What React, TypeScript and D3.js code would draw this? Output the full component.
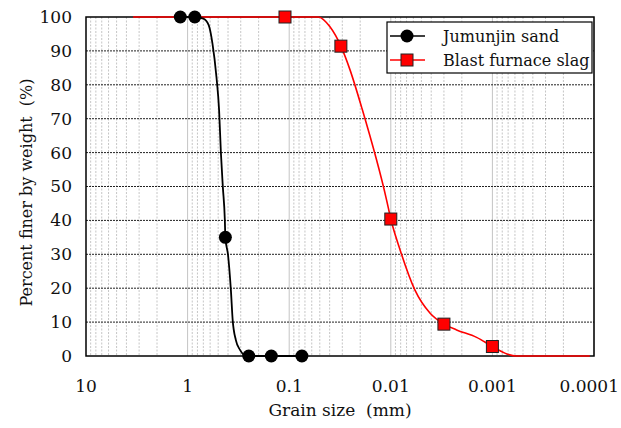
import React, { useEffect, useRef } from "react";
import * as d3 from "d3";

// markers (sieve / hydrometer readings)
const sandSize = [1.18, 0.85, 0.425, 0.25, 0.15, 0.075];
const sandPct = [100, 100, 35, 0, 0, 0];
const slagSize = [0.11, 0.031, 0.01, 0.003, 0.001];
const slagPct = [100, 91.4, 40.4, 9.4, 2.8];

// smoothed gradation curves
const sandCurveSize = [1.18, 0.85, 0.7, 0.62, 0.57, 0.52, 0.49, 0.47, 0.45, 0.43, 0.425, 0.4, 0.375, 0.36, 0.335, 0.305, 0.262, 0.25, 0.15, 0.075];
const sandCurvePct = [100, 100, 99.5, 97.6, 92.3, 82.3, 72.6, 59.9, 49.9, 40.1, 35, 29.8, 19.5, 10.6, 4.7, 1.8, 0, 0, 0, 0];
const slagCurveSize = [3.44, 0.11, 0.0517, 0.0397, 0.031, 0.0252, 0.0193, 0.011, 0.01, 0.0081, 0.0058, 0.0041, 0.003, 0.00225, 0.00143, 0.001, 0.00072, 0.00058, 0.00011];
const slagCurvePct = [100, 100, 100, 97.1, 91.4, 84.4, 73.2, 46, 40.4, 31.3, 19.5, 12.6, 9.4, 7.7, 5.5, 2.8, 0.6, 0, 0];

const xTicks = [10, 1, 0.1, 0.01, 0.001, 0.0001];
const xTickLabels = ["10", "1", "0.1", "0.01", "0.001", "0.0001"];
const yTicks = [0, 10, 20, 30, 40, 50, 60, 70, 80, 90, 100];
const seriesNames = ["Jumunjin sand", "Blast furnace slag"];

const FONT = "DejaVu Serif, Liberation Serif, serif";

export default function App() {
  const ref = useRef<SVGSVGElement>(null);

  useEffect(() => {
    const margin = { top: 17, right: 27, bottom: 72, left: 86 };
    const width = 621 - margin.left - margin.right;
    const height = 428 - margin.top - margin.bottom;

    const svg = d3.select(ref.current);
    svg.selectAll("*").remove();
    const g = svg.append("g").attr("transform", `translate(${margin.left},${margin.top})`);

    const x = d3.scaleLog().domain([10, 0.0001]).range([0, width]);
    const y = d3.scaleLinear().domain([0, 100]).range([height, 0]);

    // vertical log grid
    const minor: number[] = [];
    const major: number[] = [];
    for (let e = -4; e < 1; e++) {
      const d = Math.pow(10, e);
      major.push(d);
      for (let k = 2; k <= 9; k++) minor.push(k * d);
    }
    g.selectAll(".vminor")
      .data(minor)
      .join("line")
      .attr("x1", (d) => x(d))
      .attr("x2", (d) => x(d))
      .attr("y1", 0)
      .attr("y2", height)
      .attr("stroke", "#b8b8b8")
      .attr("stroke-width", 0.8)
      .attr("stroke-dasharray", "2,1.5");
    g.selectAll(".vmajor")
      .data(major)
      .join("line")
      .attr("x1", (d) => x(d))
      .attr("x2", (d) => x(d))
      .attr("y1", 0)
      .attr("y2", height)
      .attr("stroke", "#c4c4c4")
      .attr("stroke-width", 1);

    // horizontal grid
    g.selectAll(".hgrid")
      .data(yTicks.filter((t) => t > 0 && t < 100))
      .join("line")
      .attr("x1", 0)
      .attr("x2", width)
      .attr("y1", (d) => y(d))
      .attr("y2", (d) => y(d))
      .attr("stroke", "#222")
      .attr("stroke-width", 1)
      .attr("stroke-dasharray", "2,1");

    // frame
    g.append("rect")
      .attr("width", width)
      .attr("height", height)
      .attr("fill", "none")
      .attr("stroke", "#000")
      .attr("stroke-width", 1.5);

    const label = (sel: any, size: number) =>
      sel.attr("font-family", FONT).attr("font-size", size).attr("fill", "#111");

    // tick labels
    const xl = label(
      g.selectAll(".xlab")
        .data(xTicks)
        .join("text")
        .attr("x", (d) => x(d))
        .attr("y", height + 36)
        .attr("text-anchor", "middle")
        .text((d, i) => xTickLabels[i]),
      17
    );
    // keep the last label inside the page
    xl.each(function (this: SVGTextElement, d: number) {
      const w = this.getComputedTextLength();
      const limit = 621 - margin.left - 2;
      if (x(d) + w / 2 > limit) d3.select(this).attr("x", limit - w / 2);
    });
    label(
      g.selectAll(".ylab")
        .data(yTicks)
        .join("text")
        .attr("x", -14)
        .attr("y", (d) => y(d))
        .attr("dy", "0.35em")
        .attr("text-anchor", "end")
        .text((d) => d),
      17
    );

    // axis titles
    label(
      svg.append("text")
        .attr("x", margin.left + width / 2)
        .attr("y", 416)
        .attr("text-anchor", "middle")
        .attr("xml:space", "preserve")
        .text("Grain size  (mm)"),
      17
    );
    label(
      svg.append("text")
        .attr("transform", `translate(32,${192.5}) rotate(-90)`)
        .attr("text-anchor", "middle")
        .attr("xml:space", "preserve")
        .text("Percent finer by weight  (%)"),
      16
    );

    const line = d3
      .line<[number, number]>()
      .x((d) => x(d[0]))
      .y((d) => y(d[1]))
      .curve(d3.curveMonotoneX);

    // slag curve
    g.append("path")
      .attr("d", line(slagCurveSize.map((s, i) => [s, slagCurvePct[i]]) as [number, number][]))
      .attr("fill", "none")
      .attr("stroke", "#ff0000")
      .attr("stroke-width", 1.6);

    // sand curve
    g.append("path")
      .attr("d", line(sandCurveSize.map((s, i) => [s, sandCurvePct[i]]) as [number, number][]))
      .attr("fill", "none")
      .attr("stroke", "#000")
      .attr("stroke-width", 1.8);

    g.selectAll(".sand")
      .data(sandSize)
      .join("circle")
      .attr("cx", (d) => x(d))
      .attr("cy", (d, i) => y(sandPct[i]))
      .attr("r", 6.5)
      .attr("fill", "#000");

    g.selectAll(".slag")
      .data(slagSize)
      .join("rect")
      .attr("x", (d) => x(d) - 6)
      .attr("y", (d, i) => y(slagPct[i]) - 6)
      .attr("width", 12)
      .attr("height", 12)
      .attr("fill", "#ff0000")
      .attr("stroke", "#222")
      .attr("stroke-width", 1);

    // legend
    const lg = svg.append("g").attr("transform", "translate(387,22)");
    lg.append("rect")
      .attr("width", 205)
      .attr("height", 51)
      .attr("fill", "#fff")
      .attr("stroke", "#000")
      .attr("stroke-width", 1.2);
    const rows = lg
      .selectAll(".row")
      .data(seriesNames)
      .join("g")
      .attr("transform", (d, i) => `translate(0,${14 + i * 24})`);
    rows.append("line")
      .attr("x1", 3)
      .attr("x2", 38)
      .attr("stroke", (d, i) => (i === 0 ? "#000" : "#ff0000"))
      .attr("stroke-width", 1.6);
    rows.filter((d, i) => i === 0)
      .append("circle")
      .attr("cx", 20)
      .attr("r", 6.5)
      .attr("fill", "#000");
    rows.filter((d, i) => i === 1)
      .append("rect")
      .attr("x", 14)
      .attr("y", -6)
      .attr("width", 12)
      .attr("height", 12)
      .attr("fill", "#ff0000")
      .attr("stroke", "#222");
    label(
      rows.append("text")
        .attr("x", 56)
        .attr("dy", "0.35em")
        .text((d) => d),
      16
    );
  }, []);

  return (
    <svg
      ref={ref}
      width={621}
      height={428}
      style={{ position: "absolute", left: 0, top: 0, background: "#fff" }}
    />
  );
}
